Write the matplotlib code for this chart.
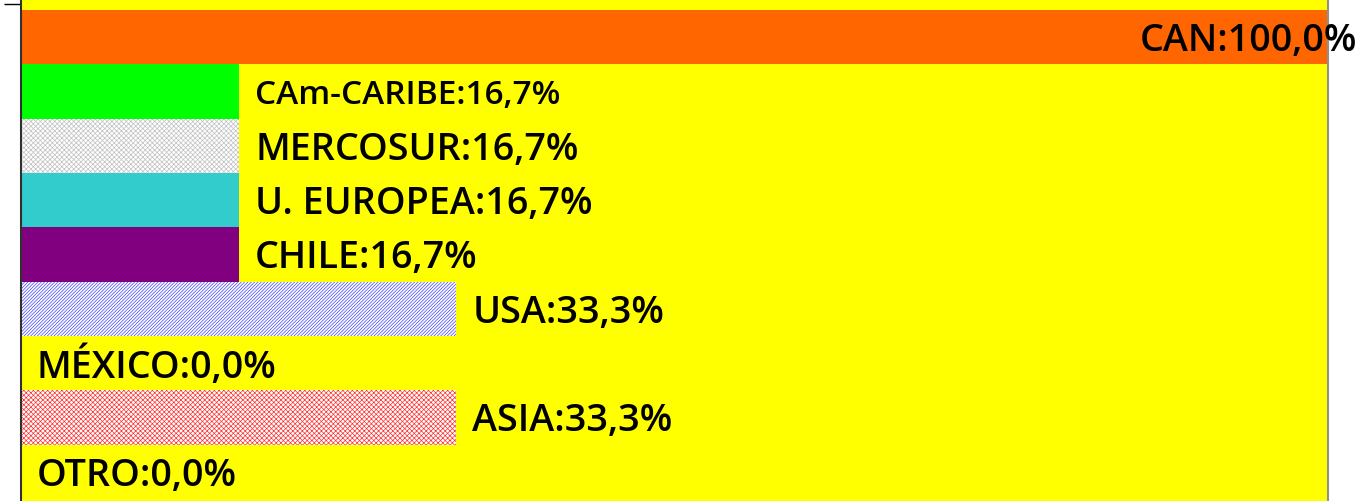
import numpy as np
import matplotlib
matplotlib.use('Agg')
import matplotlib.pyplot as plt

# Data.
categories = ['CAN', 'CAm-CARIBE', 'MERCOSUR', 'U. EUROPEA', 'CHILE',
              'USA', 'MÉXICO', 'ASIA', 'OTRO']
values = [100.0, 16.7, 16.7, 16.7, 16.7, 33.3, 0.0, 33.3, 0.0]
colors = ['#FF6600', '#00FF00', '#FFFFFF', '#33CCCC', '#800080',
          '#FFFFFF', '#FFFFFF', '#FFFFFF', '#FFFFFF']
hatches = [None, None, 'xxxxxxx', None, None, '//////////', None, 'xxxxxxx', None]
hatch_colors = [None, None, '#c0c0c0', None, None, '#4040ff', None, '#ff3030', None]
font_sizes = [27.2, 24, 27.2, 27.2, 27.2, 27.2, 27.2, 27.2, 27.2]

plt.rcParams['font.family'] = ['Open Sans', 'DejaVu Sans']
plt.rcParams['hatch.linewidth'] = 0.5

# Figure and axis.
fig = plt.figure(figsize=(13.61, 5.02), dpi=100)
ax = fig.add_axes([21 / 1361, 0.0, 1307 / 1361, 1.0])
ax.set_facecolor('#FFFF00')

y = np.arange(len(categories))
for i in range(len(categories)):
    if values[i] <= 0:
        continue
    bar = ax.barh(y[i], values[i], height=1.0, color=colors[i],
                  edgecolor='none', linewidth=0)[0]
    if hatches[i]:
        bar.set_hatch(hatches[i])
        bar.set_edgecolor(hatch_colors[i])
        bar.set_linewidth(0)

# Labels next to the bars.
for i in range(len(categories)):
    text = '%s:%s%%' % (categories[i], ('%.1f' % values[i]).replace('.', ','))
    if values[i] >= 100:
        ax.annotate(text, (values[i], y[i]), xytext=(21, -2),
                    textcoords='offset points', ha='right', va='center',
                    fontsize=font_sizes[i], fontweight='semibold',
                    annotation_clip=False)
    else:
        ax.annotate(text, (values[i], y[i]), xytext=(11.5, -2),
                    textcoords='offset points', ha='left', va='center',
                    fontsize=font_sizes[i], fontweight='semibold')

ax.set_xlim(0, 100)
ax.set_ylim(8.5 + 2 / 54.33, -0.5 - 11 / 54.33)
ax.set_xticks([])
ax.set_yticks([-0.61])
ax.set_yticklabels([''])
ax.tick_params(axis='y', length=12, width=1, color='black')

ax.spines['top'].set_visible(False)
ax.spines['bottom'].set_visible(False)
ax.spines['left'].set_color('#303030')
ax.spines['left'].set_linewidth(1.5)
ax.spines['right'].set_color('#909090')
ax.spines['right'].set_linewidth(1.5)

fig.savefig('out.png', dpi=100)
